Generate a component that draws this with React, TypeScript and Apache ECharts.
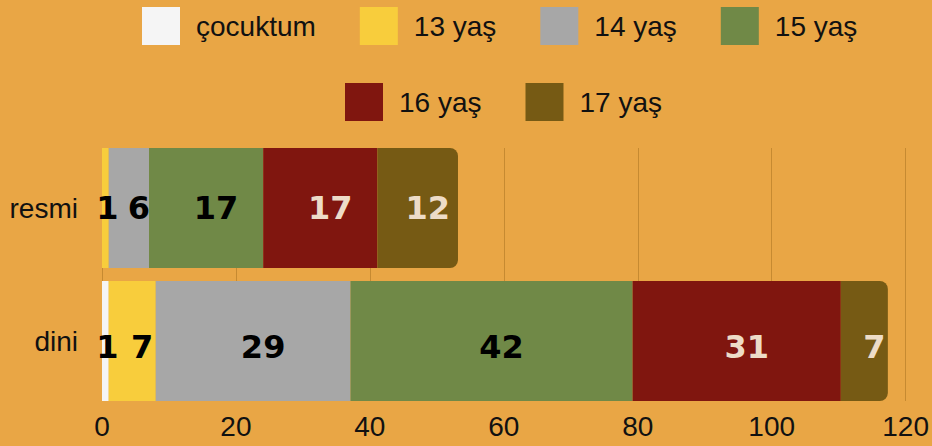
import React, { useEffect, useRef } from "react";
import * as echarts from "echarts";

const categories = ["resmi", "dini"];
const seriesNames = ["çocuktum", "13 yaş", "14 yaş", "15 yaş", "16 yaş", "17 yaş"];
const cocuktum = [0, 1];
const yas13 = [1, 7];
const yas14 = [6, 29];
const yas15 = [17, 42];
const yas16 = [17, 31];
const yas17 = [12, 7];
const xTicks = [0, 20, 40, 60, 80, 100, 120];

const values = [cocuktum, yas13, yas14, yas15, yas16, yas17];
const colors = ["#F5F5F5", "#F8CD3C", "#A7A7A7", "#708947", "#80160F", "#765A14"];
const labelColors = ["#000", "#000", "#000", "#000", "#EDDCC8", "#EDDCC8"];
const labelDy = [0, 6];

export default function App() {
  const ref = useRef<HTMLDivElement>(null);
  useEffect(() => {
    if (!ref.current) return;
    const chart = echarts.init(ref.current, undefined, { renderer: "svg" });
    const legendCommon = {
      orient: "horizontal" as const,
      padding: 0,
      itemWidth: 38,
      itemHeight: 38,
      itemGap: 44,
      icon: "rect",
      textStyle: {
        fontFamily: "Liberation Sans",
        fontSize: 28,
        color: "#111",
        padding: [0, 0, 0, 11],
      },
    };
    const xMin = xTicks[0];
    const xMax = xTicks[xTicks.length - 1];
    const step = xTicks[1] - xTicks[0];
    chart.setOption({
      animation: false,
      backgroundColor: "#E9A645",
      color: colors,
      legend: [
        { ...legendCommon, left: 142, top: 7, data: seriesNames.slice(0, 4) },
        { ...legendCommon, left: 345, top: 83, data: seriesNames.slice(4) },
      ],
      grid: [
        { left: 102, right: 24, top: 141.5, bottom: 38.5 },
        { left: 102, right: 24, top: 148, bottom: 45 },
      ],
      xAxis: [
        {
          type: "value",
          gridIndex: 0,
          min: xMin,
          max: xMax,
          interval: step,
          show: false,
          splitLine: { show: false },
        },
        {
          type: "value",
          gridIndex: 1,
          min: xMin,
          max: xMax,
          interval: step,
          axisLine: { show: false },
          axisTick: { show: false },
          axisLabel: {
            fontFamily: "Liberation Sans",
            fontSize: 28,
            color: "#111",
            margin: 11,
          },
          splitLine: { show: true, lineStyle: { color: "#C68A31", width: 1 } },
        },
      ],
      yAxis: [
        {
          type: "category",
          gridIndex: 0,
          data: categories,
          inverse: true,
          axisLine: { show: false },
          axisTick: { show: false },
          axisLabel: {
            fontFamily: "Liberation Sans",
            fontSize: 28,
            color: "#111",
            margin: 24,
          },
        },
        {
          type: "category",
          gridIndex: 1,
          data: categories,
          inverse: true,
          show: false,
        },
      ],
      series: seriesNames.map((name, i) => ({
        name,
        type: "bar",
        stack: "total",
        xAxisIndex: 0,
        yAxisIndex: 0,
        barWidth: 120,
        data: values[i].map((v, j) => ({
          value: v,
          label: { offset: [v <= 1 ? 2 : 10, labelDy[j]] },
        })),
        itemStyle: {
          color: colors[i],
          borderRadius: i === seriesNames.length - 1 ? [0, 8, 8, 0] : 0,
        },
        label: {
          show: true,
          position: "inside",
          color: labelColors[i],
          fontFamily: "DejaVu Sans",
          fontWeight: "bold",
          fontSize: 32,
          formatter: (p: any) => (p.value > 0 ? String(p.value) : ""),
        },
      })),
    });
    return () => chart.dispose();
  }, []);
  return <div ref={ref} style={{ width: 932, height: 446, position: "absolute", left: 0, top: 0 }} />;
}
